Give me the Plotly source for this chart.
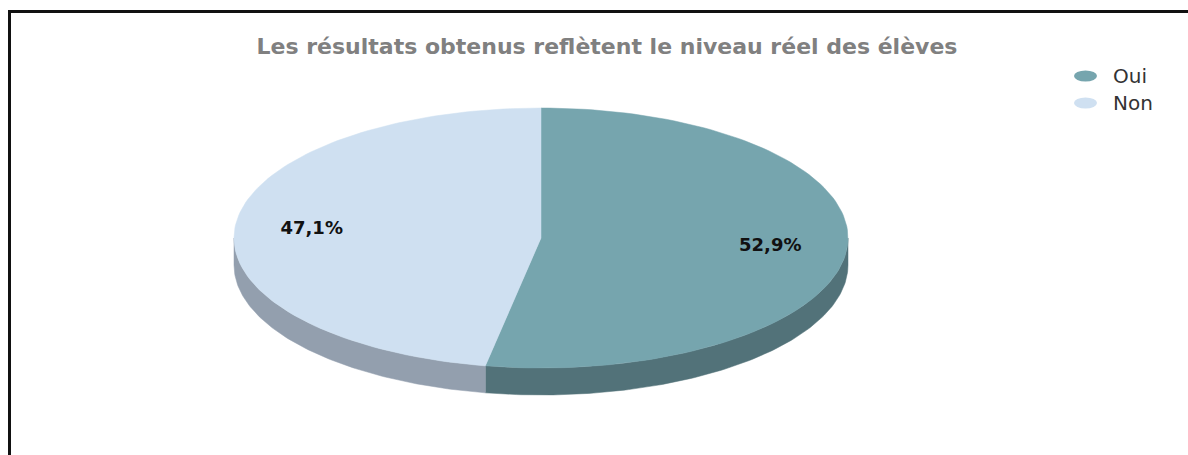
import numpy as np
import plotly.graph_objects as go

# Survey answers
categories = ["Oui", "Non"]
values = [52.9, 47.1]
value_labels = ["52,9%", "47,1%"]
title_text = "Les résultats obtenus reflètent le niveau réel des élèves"

top_colors = ["#76a5ae", "#cfe0f1"]
side_colors = ["#527279", "#939fae"]

W, H = 1188, 455
# geometry of the tilted pie (pixel space)
CX, CY = 541, 238
RX, RY = 307, 130
DEPTH = 27


def ellipse_pts(a0, a1, dy=0.0, n=120):
    """Points on the pie rim, angles in degrees clockwise from 12 o'clock."""
    t = np.radians(np.linspace(a0, a1, n))
    return CX + RX * np.sin(t), CY - RY * np.cos(t) + dy


total = sum(values)
angles = np.concatenate([[0.0], np.cumsum(values) / total * 360.0])

fig = go.Figure()

# side walls (front half of the rim only: 90°..270°)
for i, cat in enumerate(categories):
    a0, a1 = max(angles[i], 90.0), min(angles[i + 1], 270.0)
    if a1 <= a0:
        continue
    xt, yt = ellipse_pts(a0, a1)
    xb, yb = ellipse_pts(a1, a0, DEPTH)
    fig.add_trace(go.Scatter(
        x=np.concatenate([xt, xb, xt[:1]]), y=np.concatenate([yt, yb, yt[:1]]),
        fill="toself", mode="lines", fillcolor=side_colors[i],
        line=dict(color=side_colors[i], width=0.5),
        hoverinfo="skip", showlegend=False))

# top faces
for i, cat in enumerate(categories):
    xa, ya = ellipse_pts(angles[i], angles[i + 1])
    fig.add_trace(go.Scatter(
        x=np.concatenate([[CX], xa, [CX]]), y=np.concatenate([[CY], ya, [CY]]),
        fill="toself", mode="lines", fillcolor=top_colors[i],
        line=dict(color=top_colors[i], width=0.5),
        name=cat, hoverinfo="name", showlegend=False))

# percentage labels at slice mid-angles
mid = np.radians((angles[:-1] + angles[1:]) / 2)
lx = CX + 0.75 * RX * np.sin(mid)
ly = CY - 0.75 * RY * np.cos(mid)
fig.add_trace(go.Scatter(
    x=lx, y=ly, mode="text", text=value_labels,
    textfont=dict(family="DejaVu Sans", size=18, color="#111111", weight="bold"),
    hoverinfo="skip", showlegend=False))

# legend: ellipse swatches + labels
shapes = []
annotations = []
for i, cat in enumerate(categories):
    yc = 76 + 27 * i
    shapes.append(dict(type="circle", xref="x", yref="y",
                       x0=1074, x1=1097, y0=yc - 5.5, y1=yc + 5.5,
                       fillcolor=top_colors[i], line=dict(width=0)))
    annotations.append(dict(x=1111, y=yc, xref="x", yref="y", text=cat,
                            showarrow=False, xanchor="left", yanchor="middle",
                            font=dict(family="DejaVu Sans", size=20, color="#333333")))

# frame lines on the left and top
shapes.append(dict(type="path", xref="x", yref="y",
                   path=f"M 9.5,{H} L 9.5,11.5 L {W},11.5",
                   line=dict(color="#111111", width=3)))

fig.update_layout(
    width=W, height=H,
    margin=dict(l=0, r=0, t=0, b=0),
    paper_bgcolor="white", plot_bgcolor="white",
    title=dict(text=title_text, x=607 / W, y=1 - 46 / H,
               xanchor="center", yanchor="middle",
               font=dict(family="DejaVu Sans", size=22, color="#808080", weight="bold")),
    xaxis=dict(range=[0, W], visible=False, fixedrange=True),
    yaxis=dict(range=[H, 0], visible=False, fixedrange=True),
    shapes=shapes, annotations=annotations,
    showlegend=False,
)

fig.write_html("out.html")
